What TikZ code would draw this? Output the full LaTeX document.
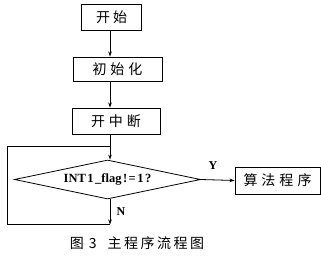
\documentclass[tikz,border=0pt]{standalone}
\usepackage{fontspec}
\setmainfont{Liberation Serif}
\newfontfamily\cjk{Noto Sans CJK SC}
\usetikzlibrary{arrows.meta,shapes.geometric}
\begin{document}
\begin{tikzpicture}[x=1pt,y=-1pt,
  boxnode/.style={draw,line width=0.9pt,minimum height=26pt,inner sep=0pt,font=\cjk\fontsize{14}{14}\selectfont},
  conn/.style={line width=0.8pt,-{Stealth[length=5pt,width=3.5pt]}},
  plain/.style={line width=0.8pt},
  lbl/.style={font=\bfseries\fontsize{12}{12}\selectfont,inner sep=0pt}]
\useasboundingbox (0,0) rectangle (321,256);
\node[boxnode,minimum width=60pt] (start) at (111.7,17) {开\hspace{3pt}始};
\node[boxnode,minimum width=89pt,minimum height=24pt] (init) at (117.5,69) {初\hspace{4pt}始\hspace{4pt}化};
\node[boxnode,minimum width=88pt] (intr) at (116,121) {开\hspace{4pt}中\hspace{4pt}断};
\node[draw,line width=0.8pt,diamond,aspect=4.7,inner sep=0pt,minimum width=186pt,minimum height=39pt,
      font=\bfseries\fontsize{12.5}{12.5}\selectfont] (dec) at (107.5,179.5) {INT\hspace{1.5pt}1\hspace{1.5pt}\_flag\hspace{1.5pt}!\hspace{1.5pt}=\hspace{1.5pt}1\hspace{1.5pt}?};
\node[boxnode,minimum width=85pt,minimum height=27pt] (alg) at (277.5,180.5) {算\hspace{4pt}法\hspace{4pt}程\hspace{4pt}序};
\coordinate (top) at (110,146);
\coordinate (bot) at (110,224.5);
\coordinate (ul) at (7,146);
\coordinate (ll) at (7,224.5);
\draw[conn] (start.south -| top) -- (init.north -| top);
\draw[conn] (init.south -| top) -- (intr.north -| top);
\draw[conn] (intr.south -| top) -- (dec.north -| top);
\draw[conn] (dec.south -| top) -- (bot);
\draw[plain] (bot) -- (ll) -- (ul) -- (top);
\draw[conn] (dec.east) -- (alg.west);
\node[lbl] (y) at (213,166) {Y};
\node[lbl] (n) at (121,212) {N};
\node[font=\cjk\fontsize{14}{14}\selectfont,inner sep=0pt] (cap) at (137,243) {图\hspace{5pt}3\hspace{11pt}主\hspace{2.5pt}程\hspace{2.5pt}序\hspace{2.5pt}流\hspace{2.5pt}程\hspace{2.5pt}图};
\end{tikzpicture}
\end{document}
